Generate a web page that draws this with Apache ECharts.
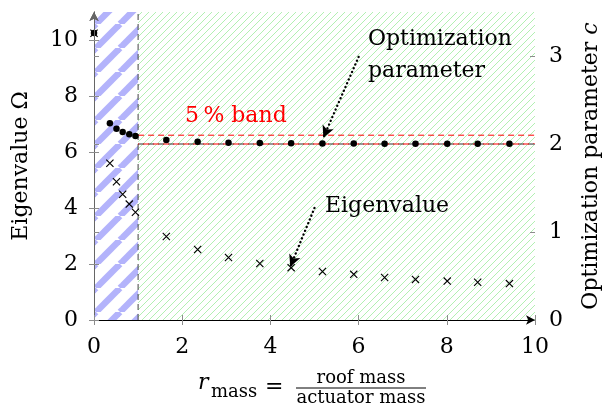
<!DOCTYPE html>
<html>
<head>
<meta charset="utf-8">
<script src="https://cdn.jsdelivr.net/npm/echarts@6/dist/echarts.min.js"></script>
<style>
html, body { margin: 0; padding: 0; background: #fff; }
#main { width: 603px; height: 408px; }
</style>
</head>
<body>
<div id="main"></div>
<script>
// mass ratio r_mass (x) and the two results
var rMass      = [0, 0.36, 0.51, 0.65, 0.80, 0.94, 1.64, 2.35, 3.05, 3.76, 4.47, 5.18, 5.89, 6.59, 7.29, 8.01, 8.70, 9.42];
var eigenvalue = [10.24, 5.60, 4.94, 4.49, 4.14, 3.85, 2.98, 2.52, 2.23, 2.02, 1.87, 1.73, 1.63, 1.52, 1.45, 1.39, 1.35, 1.30];
var optParam   = [3.26, 2.235, 2.174, 2.136, 2.110, 2.090, 2.045, 2.026, 2.015, 2.010, 2.008, 2.006, 2.005, 2.004, 2.004, 2.003, 2.003, 2.003];

var xTicks   = [0, 2, 4, 6, 8, 10];
var eigTicks = [0, 2, 4, 6, 8, 10];
var parTicks = [0, 1, 2, 3];

var splitR   = 1;          // dashed vertical line, end of blue region
var xMax     = 10;
var eigMax   = 11;
var parMax   = 3.5;
var cTarget  = 2;          // black dashed line
var band     = [2, 2.1];   // 5 % band
var eigArrow   = [[5.0, 4.0], [4.45, 1.9]];   // on Omega axis
var paramArrow = [[6.0, 2.99], [5.2, 2.07]];  // on c axis

var FONT = "'DejaVu Serif', serif";
var FS = 22;

function hatch(size, width, color) {
    var c = document.createElement('canvas');
    c.width = size;
    c.height = size;
    var ctx = c.getContext('2d');
    ctx.strokeStyle = color;
    ctx.lineWidth = width;
    for (var k = -1; k <= 1; k++) {
        ctx.beginPath();
        ctx.moveTo(k * size, size);
        ctx.lineTo(k * size + size, 0);
        ctx.stroke();
    }
    return c;
}
var bluePattern = { image: hatch(24, 6.5, '#b3b3fb'), repeat: 'repeat' };
var greenPattern = { image: hatch(7, 1, '#b2f0b2'), repeat: 'repeat' };

var eigData = rMass.map(function (x, i) { return [x, eigenvalue[i]]; });
var parData = rMass.map(function (x, i) { return [x, optParam[i]]; });

var crossPath = 'path://M0,1L1,0L10,9L9,10ZM9,0L10,1L1,10L0,9Z';
var dotted = { type: [0.1, 4], cap: 'round', width: 2.4, color: '#000' };

function tickAxis(extra) {
    var o = {
        type: 'value',
        z: 10,
        axisLine: { show: false },
        splitLine: { show: false },
        axisLabel: { show: false }
    };
    for (var k in extra) o[k] = extra[k];
    return o;
}

function refLine(name, pts, color, dash, offset) {
    return {
        name: name, type: 'line', xAxisIndex: 0, yAxisIndex: pts.axis, z: 3,
        symbol: 'none', silent: true,
        lineStyle: { color: color, width: 1, type: dash, dashOffset: offset || 0 },
        data: pts.data
    };
}

function txt(text, x, y, size, extra) {
    var st = { text: text, fill: '#000', font: size + 'px ' + FONT, verticalAlign: 'middle' };
    for (var k in extra) st[k] = extra[k];
    return { type: 'text', x: x, y: y, z: 20, style: st };
}

var myChart = echarts.init(document.getElementById('main'));

var option = {
    animation: false,
    textStyle: { fontFamily: FONT },
    grid: { left: 94, right: 68, top: 12, bottom: 88, outerBoundsMode: 'none' },
    xAxis: [{
        type: 'value', min: 0, max: xMax, interval: 2, position: 'bottom', z: 10,
        axisLine: { onZero: false, lineStyle: { color: '#000', width: 1 }, symbol: ['none', 'arrow'], symbolSize: [7, 9] },
        axisTick: { inside: false, length: 5, lineStyle: { color: '#8c8c8c' }, customValues: xTicks },
        axisLabel: { margin: 16, color: '#000', fontFamily: FONT, fontSize: FS, customValues: xTicks },
        splitLine: { show: false }
    }, tickAxis({ min: 0, max: xMax, position: 'bottom',
        axisTick: { inside: true, length: 5, lineStyle: { color: '#8c8c8c' }, customValues: xTicks } })],
    yAxis: [{
        type: 'value', min: 0, max: eigMax, interval: 2, position: 'left', z: 10,
        name: 'Eigenvalue Ω', nameLocation: 'middle', nameRotate: 90, nameGap: 62,
        nameTextStyle: { color: '#000', fontFamily: FONT, fontSize: FS },
        axisLine: { lineStyle: { color: '#555', width: 1 }, symbol: ['none', 'arrow'], symbolSize: [7, 9] },
        axisTick: { inside: false, length: 5, lineStyle: { color: '#8c8c8c' }, customValues: eigTicks },
        axisLabel: { margin: 16, color: '#000', fontFamily: FONT, fontSize: FS, customValues: eigTicks },
        splitLine: { show: false }
    }, {
        type: 'value', min: 0, max: parMax, interval: 1, position: 'right', z: 10,
        name: 'Optimization parameter {i|c}', nameLocation: 'middle', nameRotate: 90, nameGap: 45,
        nameTextStyle: { color: '#000', fontFamily: FONT, fontSize: FS,
            rich: { i: { fontFamily: FONT, fontSize: FS, fontStyle: 'italic', color: '#000' } } },
        axisLine: { lineStyle: { color: '#666', width: 1 }, symbol: ['none', 'arrow'], symbolSize: [7, 9] },
        axisTick: { inside: false, length: 5, lineStyle: { color: '#8c8c8c' }, customValues: parTicks },
        axisLabel: { margin: 14, color: '#000', fontFamily: FONT, fontSize: FS, customValues: parTicks },
        splitLine: { show: false }
    },
    tickAxis({ min: 0, max: eigMax, position: 'left',
        axisTick: { inside: true, length: 5, lineStyle: { color: '#8c8c8c' }, customValues: eigTicks } }),
    tickAxis({ min: 0, max: parMax, position: 'right',
        axisTick: { inside: true, length: 5, lineStyle: { color: '#8c8c8c' }, customValues: parTicks } })
    ],
    series: [
        refLine('split', { axis: 0, data: [[splitR, 0], [splitR, eigMax]] }, '#444', [6, 4]),
        refLine('target', { axis: 1, data: [[splitR, cTarget], [xMax, cTarget]] }, '#333', [6, 4]),
        refLine('band low', { axis: 1, data: [[splitR, band[0]], [xMax, band[0]]] }, '#ff0000', [6, 4], 5),
        refLine('band high', { axis: 1, data: [[splitR, band[1]], [xMax, band[1]]] }, '#ff0000', [6, 4]),
    {
        name: 'Eigenvalue',
        type: 'scatter',
        xAxisIndex: 0,
        yAxisIndex: 0,
        z: 4,
        symbol: crossPath,
        symbolSize: 8,
        itemStyle: { color: '#000', opacity: 1 },
        data: eigData,
        markArea: {
            silent: true,
            z: 1,
            label: { show: false },
            data: [
                [{ xAxis: 0, itemStyle: { color: bluePattern, opacity: 1 } }, { xAxis: splitR }],
                [{ xAxis: splitR, itemStyle: { color: greenPattern, opacity: 1 } }, { xAxis: xMax }]
            ]
        },
        markLine: {
            silent: true,
            symbol: ['none', 'arrow'],
            symbolSize: [9, 12],
            label: { show: false },
            lineStyle: dotted,
            data: [[{ coord: eigArrow[0] }, { coord: eigArrow[1] }]]
        }
    }, {
        name: 'Optimization parameter',
        type: 'scatter',
        xAxisIndex: 0,
        yAxisIndex: 1,
        z: 5,
        symbol: 'circle',
        symbolSize: 6.5,
        itemStyle: { color: '#000', opacity: 1 },
        data: parData,
        markLine: {
            silent: true,
            symbol: ['none', 'arrow'],
            symbolSize: [9, 12],
            label: { show: false },
            lineStyle: dotted,
            data: [[{ coord: paramArrow[0] }, { coord: paramArrow[1] }]]
        }
    }],
    graphic: [
        txt('5\u2009% band', 185, 116, FS, { fill: '#ff0000' }),
        txt('Optimization', 368, 39, FS),
        txt('parameter', 368, 71, FS),
        txt('Eigenvalue', 325, 206, FS),
        // x axis name: r_mass = roof mass / actuator mass
        txt('r', 198, 383, FS, { font: 'italic ' + FS + 'px ' + FONT }),
        txt('mass', 211, 392, 18),
        txt('=', 265, 387, FS),
        txt('roof mass', 361, 378, 18, { align: 'center' }),
        { type: 'line', z: 20, shape: { x1: 296, y1: 388, x2: 426, y2: 388 }, style: { stroke: '#000', lineWidth: 1 } },
        txt('actuator mass', 361, 398, 18, { align: 'center' })
    ]
};

myChart.setOption(option);
</script>
</body>
</html>
